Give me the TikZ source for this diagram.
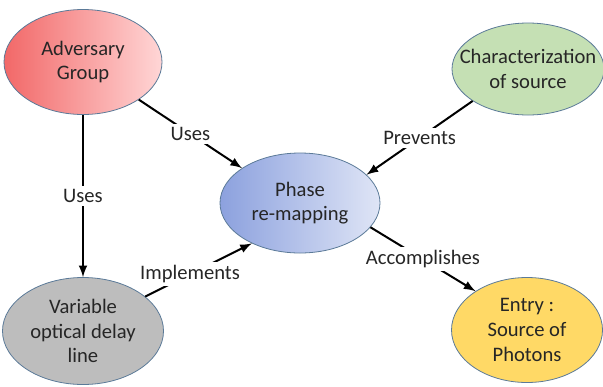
\documentclass[tikz,border=0pt]{standalone}
\usepackage{fontspec}
\setmainfont{Carlito}
\usepackage{xcolor}
\usepackage{tikz}
\usetikzlibrary{shapes,arrows,positioning}
\definecolor{advRed}{HTML}{F26868}
\definecolor{advPink}{HTML}{FFD6D6}
\definecolor{phaseBlue}{HTML}{8CA1DE}
\definecolor{phasePale}{HTML}{DFE5F6}
\definecolor{charGreen}{HTML}{C5E0B4}
\definecolor{delayGray}{HTML}{BDBDBD}
\definecolor{entryYellow}{HTML}{FFD966}
\definecolor{rimBlue}{HTML}{5B7A98}
\definecolor{inkGray}{HTML}{262626}
\tikzset{>=latex}
\tikzset{concept/.style={draw=rimBlue, line width=0.4pt, ellipse, inner sep=0, align=center,
    text=inkGray, font=\fontsize{10.3}{12.3}\selectfont}}
\tikzset{link/.style={->, line width=1pt}}
\tikzset{link-label/.style={fill=white, inner sep=1.5pt, text=inkGray, font=\fontsize{10.3}{12.3}\selectfont}}

\begin{document}
\begin{tikzpicture}[x=0.5pt, y=-0.5pt]
    \useasboundingbox (0,0) rectangle (603,386);

    \node[concept, left color=phaseBlue, right color=phasePale,
          minimum width=80pt, minimum height=50pt] (phase) at (300,203) {Phase\\re-mapping};
    \node[concept, left color=advRed, right color=advPink,
          minimum width=79pt, minimum height=52.5pt] (adversary) at (83,62) {Adversary\\Group};
    \node[concept, fill=charGreen,
          minimum width=76pt, minimum height=46pt] (charac) at (528,69) {\makebox[0pt]{Characterization}\\of source};
    \node[concept, fill=delayGray,
          minimum width=80.5pt, minimum height=53.5pt] (delay) at (83,331) {Variable\\optical delay\\line};
    \node[concept, fill=entryYellow,
          minimum width=75.5pt, minimum height=52.5pt] (entry) at (527,330) {Entry :\\Source of\\Photons};

    \draw[link] (adversary.-34) -- node[link-label] {Uses} (phase.149);
    \draw[link] (adversary.south) -- node[link-label] {Uses} (delay.north);
    \draw[link] (charac.210) -- node[link-label] {Prevents} (phase.23);
    \draw[link] (delay.29) -- node[link-label, pos=0.42] {Implements} (phase.-140);
    \draw[link] (phase.-19) -- node[link-label] {Accomplishes} (entry.143);
\end{tikzpicture}
\end{document}
